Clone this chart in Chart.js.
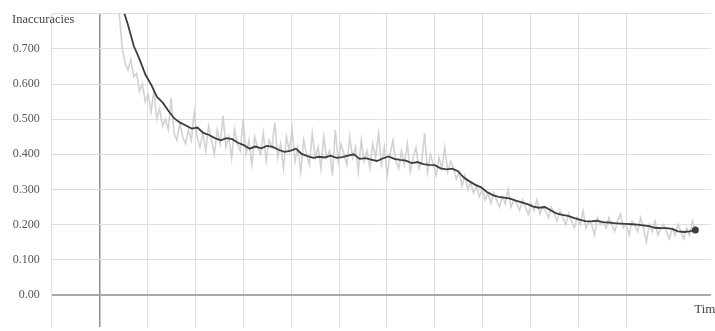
<!DOCTYPE html>
<html>
<head>
<meta charset="utf-8">
<script src="https://cdn.jsdelivr.net/npm/chart.js@4/dist/chart.umd.min.js"></script>
<style>
  html, body { margin: 0; padding: 0; background: #fff; overflow: hidden; }
  #wrap { position: relative; width: 715px; height: 331px; }
</style>
</head>
<body>
<div id="wrap"><canvas id="lossChart" width="715" height="331"></canvas></div>
<script>
// ---- data ----
const yTitle = 'Inaccuracies';
const xTitle = 'Time';

// raw run, evenly spaced from step 0.35 to 12.44
const rawStart = 0.35, rawEnd = 12.44;
const rawValues = [
  0.90, 0.80, 0.70, 0.66, 0.64, 0.67, 0.62, 0.63, 0.58, 0.60,
  0.55, 0.57, 0.52, 0.58, 0.50, 0.53, 0.48, 0.50, 0.47, 0.56,
  0.46, 0.44, 0.49, 0.45, 0.43, 0.47, 0.44, 0.52, 0.45, 0.42,
  0.46, 0.41, 0.48, 0.44, 0.40, 0.47, 0.43, 0.51, 0.42, 0.45,
  0.39, 0.47, 0.43, 0.41, 0.50, 0.40, 0.44, 0.37, 0.45, 0.42,
  0.40, 0.46, 0.38, 0.44, 0.42, 0.49, 0.39, 0.43, 0.36, 0.45,
  0.41, 0.47, 0.38, 0.42, 0.35, 0.44, 0.40, 0.37, 0.46, 0.39,
  0.42, 0.36, 0.45, 0.39, 0.41, 0.34, 0.47, 0.38, 0.43, 0.40,
  0.37, 0.45, 0.39, 0.42, 0.35, 0.44, 0.38, 0.41, 0.36, 0.43,
  0.39, 0.46, 0.37, 0.42, 0.34, 0.40, 0.44, 0.38, 0.36, 0.41,
  0.37, 0.43, 0.35, 0.39, 0.42, 0.36, 0.38, 0.46, 0.35, 0.40,
  0.37, 0.34, 0.39, 0.36, 0.42, 0.35, 0.38, 0.36, 0.33, 0.35,
  0.31, 0.34, 0.30, 0.32, 0.29, 0.31, 0.28, 0.30, 0.27, 0.29,
  0.26, 0.29, 0.27, 0.25, 0.28, 0.26, 0.30, 0.25, 0.27, 0.26,
  0.24, 0.27, 0.25, 0.23, 0.26, 0.24, 0.27, 0.23, 0.25, 0.24,
  0.22, 0.25, 0.23, 0.21, 0.24, 0.22, 0.20, 0.23, 0.21, 0.19,
  0.22, 0.20, 0.24, 0.19, 0.21, 0.20, 0.17, 0.22, 0.20, 0.21,
  0.19, 0.22, 0.20, 0.18, 0.21, 0.23, 0.19, 0.20, 0.17, 0.21,
  0.20, 0.18, 0.22, 0.19, 0.15, 0.20, 0.18, 0.21, 0.17, 0.19,
  0.20, 0.18, 0.16, 0.19, 0.17, 0.20, 0.18, 0.16, 0.19, 0.17, 0.21, 0.185
];

// smoothed run, evenly spaced over the same range
const smoothValues = [
  0.870, 0.820, 0.768, 0.708, 0.670, 0.627, 0.598, 0.563, 0.547, 0.523,
  0.502, 0.490, 0.482, 0.473, 0.476, 0.461, 0.455, 0.446, 0.440, 0.446,
  0.443, 0.433, 0.426, 0.416, 0.422, 0.417, 0.424, 0.421, 0.413, 0.407,
  0.410, 0.416, 0.401, 0.395, 0.390, 0.393, 0.391, 0.396, 0.390, 0.392,
  0.396, 0.400, 0.387, 0.389, 0.385, 0.381, 0.388, 0.394, 0.387, 0.384,
  0.382, 0.375, 0.378, 0.372, 0.370, 0.369, 0.360, 0.357, 0.359, 0.352,
  0.334, 0.323, 0.313, 0.306, 0.293, 0.284, 0.279, 0.277, 0.274, 0.268,
  0.263, 0.258, 0.251, 0.248, 0.250, 0.241, 0.232, 0.228, 0.225, 0.219,
  0.214, 0.210, 0.209, 0.211, 0.207, 0.206, 0.204, 0.203, 0.202, 0.201,
  0.200, 0.198, 0.196, 0.191, 0.190, 0.190, 0.188, 0.181, 0.179, 0.181,
  0.185
];

// axis ranges
const xMin = -1, xMax = 12.767;
const yMin = -0.0913, yMax = 0.8;

// ---- helpers ----
const FONT = '"Liberation Serif", "DejaVu Serif", serif';
const toPoints = (vals, a, b) => vals.map((v, i) => ({ x: a + i * (b - a) / (vals.length - 1), y: v }));
const isZero = (v) => Math.abs(v) < 1e-9;

const titles = {
  id: 'titles',
  afterDraw(chart) {
    const { ctx, scales } = chart;
    ctx.save();
    ctx.fillStyle = '#444';
    ctx.textBaseline = 'alphabetic';
    ctx.textAlign = 'left';
    ctx.font = '12.5px ' + FONT;
    ctx.fillText(yTitle, 12, 23);
    ctx.font = '13px ' + FONT;
    const tx = scales.x.getPixelForValue(12) + 20;
    const ty = scales.y.getPixelForValue(0) + 18;
    ctx.fillText(xTitle, tx, ty);
    ctx.restore();
  }
};

const lastIdx = smoothValues.length - 1;

new Chart(document.getElementById('lossChart'), {
  type: 'line',
  data: {
    datasets: [
      {
        label: 'smoothed',
        data: toPoints(smoothValues, rawStart, rawEnd),
        borderColor: '#3d3d3d',
        borderWidth: 1.8,
        pointRadius: (c) => c.dataIndex === lastIdx ? 3.5 : 0,
        pointBackgroundColor: '#3d3d3d',
        pointBorderWidth: 0,
        tension: 0,
        order: 1
      },
      {
        label: 'raw',
        data: toPoints(rawValues, rawStart, rawEnd),
        borderColor: 'rgba(205,205,205,0.9)',
        borderWidth: 1.6,
        pointRadius: 0,
        tension: 0,
        order: 2
      }
    ]
  },
  options: {
    responsive: false,
    animation: false,
    devicePixelRatio: 1,
    layout: { padding: { top: 13.7, left: 0, right: 0, bottom: 0 } },
    plugins: { legend: { display: false }, tooltip: { enabled: false } },
    scales: {
      x: {
        type: 'linear',
        min: xMin, max: xMax,
        ticks: { display: false, stepSize: 1 },
        border: { display: false },
        grid: {
          drawTicks: false,
          color: (c) => c.tick && c.tick.value === 0 ? '#8f8f8f' : '#dedede',
          lineWidth: (c) => c.tick && c.tick.value === 0 ? 1.5 : 1
        },
        afterBuildTicks: (s) => { s.ticks = s.ticks.filter(t => Number.isInteger(t.value)); },
        afterFit: (s) => { s.height = 0; s.paddingLeft = 0; s.paddingRight = 0; }
      },
      y: {
        min: yMin, max: yMax,
        ticks: {
          stepSize: 0.1,
          padding: 12,
          color: '#555',
          font: { family: FONT, size: 12 },
          callback: (v) => isZero(v) ? '0.00' : (v > 0.75 ? '' : Number(v).toFixed(3))
        },
        border: { display: false },
        grid: {
          drawTicks: false,
          color: (c) => c.tick && isZero(c.tick.value) ? '#a8a8a8' : '#dedede',
          lineWidth: (c) => c.tick && isZero(c.tick.value) ? 2 : 1
        },
        afterBuildTicks: (s) => { s.ticks = s.ticks.filter(t => t.value > -1e-9 && t.value < 0.8 + 1e-9); },
        afterFit: (s) => { s.width = 51.8; s.paddingTop = 0; s.paddingBottom = 0; }
      }
    }
  },
  plugins: [titles]
});
</script>
</body>
</html>
